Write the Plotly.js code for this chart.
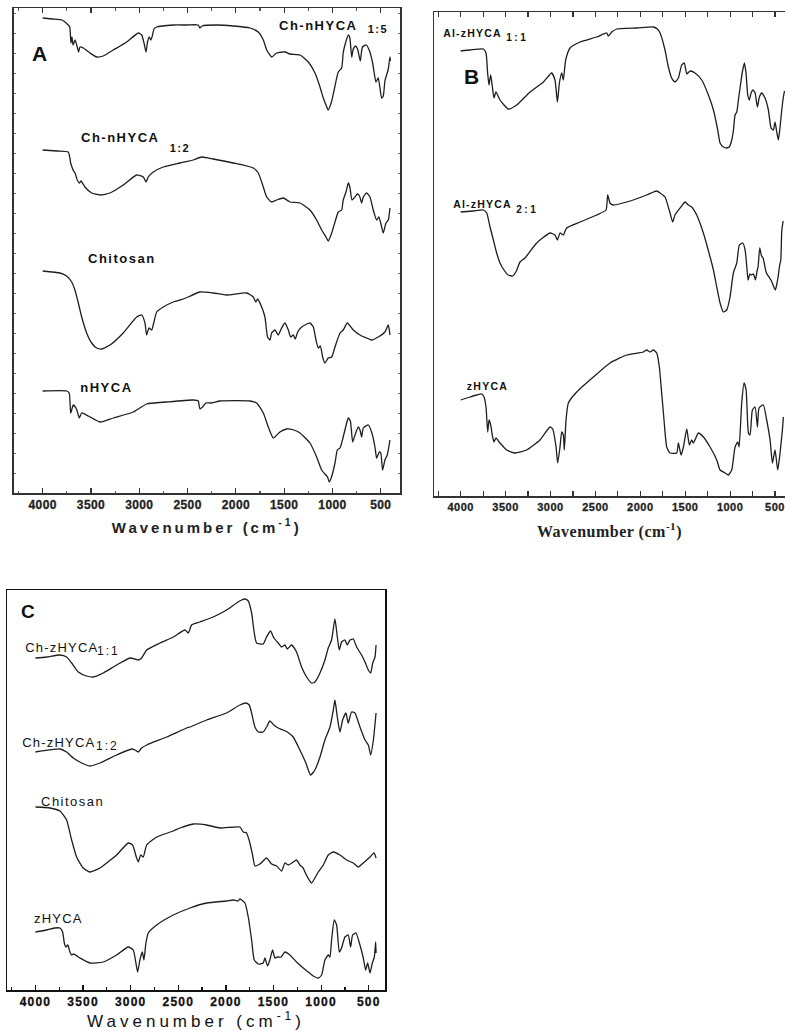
<!DOCTYPE html>
<html>
<head>
<meta charset="utf-8">
<script src="https://cdn.plot.ly/plotly-3.0.1.min.js"></script>
<style>
html,body{margin:0;padding:0;background:#fff}
#chart{width:785px;height:1031px}
#chart .xtick text{font-weight:700 !important;letter-spacing:0.4px;stroke:#222;stroke-width:0.3px}
#chart .x2tick text{font-weight:700 !important;letter-spacing:0.5px;stroke:#222;stroke-width:0.3px}
#chart .x3tick text{font-weight:700 !important;letter-spacing:1.2px;stroke:#111;stroke-width:0.3px}
#chart text.xtitle{font-weight:700 !important;letter-spacing:3px}
#chart text.x2title{font-weight:700 !important;letter-spacing:0.5px}
#chart text.x3title{letter-spacing:4px}
</style>
</head>
<body>
<div id="chart"></div>
<script>
// FTIR spectra, transmittance in arbitrary (stacked) units per panel.

// ---- Panel A ----
const wnChNHYCA15 = [4000,3900,3800,3735,3720,3707,3697,3685,3665,3642,3628,3614,3580,3510,3441,3373,3269,3130,3010,2975,2951,2930,2915,2897,2880,2865,2848,2820,2648,2509,2390,2372,2350,2199,2027,1854,1768,1716,1681,1629,1578,1492,1440,1336,1250,1181,1129,1095,1067,1044,1008,974,940,905,889,871,836,820,801,785,760,740,712,690,650,620,584,550,526,491,474,457,422,405,400];
const tChNHYCA15 = [475,474,473,468,466,450,456,448,453,446,441,446,445,440,436,437,443,451,460,458,450,441,451,456,453,457,464,466,468,468,468,465,467,468,467,465,461,453,443,436,440,441,439,438,431,420,406,395,388,383,392,407,421,425,440,448,458,455,436,444,447,444,432,446,448,443,430,411,415,395,397,412,424,436,432];

const wnChNHYCA12 = [4000,3850,3735,3710,3697,3680,3665,3642,3620,3603,3562,3493,3407,3303,3166,3027,2958,2930,2907,2855,2752,2579,2441,2354,2234,2027,1820,1768,1716,1681,1629,1578,1509,1440,1336,1233,1164,1112,1067,1044,1008,974,940,905,889,860,836,820,798,767,743,720,698,681,646,612,578,543,520,491,474,446,422,405];
const tChNHYCA12 = [343,342,341,330,326,322,320,313,310,312,306,300,298,300,308,318,316,311,316,321,326,330,333,336,334,330,325,320,306,296,291,293,295,291,290,283,273,263,256,252,260,271,281,283,293,301,310,306,293,296,299,297,290,296,300,296,283,273,276,266,260,270,273,285];

const wnChitosanA = [4000,3821,3752,3700,3666,3631,3596,3545,3493,3441,3390,3303,3166,3027,2975,2941,2924,2900,2872,2848,2820,2752,2648,2545,2493,2372,2234,2096,1889,1820,1793,1775,1733,1699,1672,1647,1630,1595,1561,1526,1492,1457,1433,1405,1385,1360,1319,1285,1233,1198,1171,1147,1125,1102,1078,1044,1008,974,922,888,847,785,698,646,595,526,457,422,405];
const tChitosanA = [222,220,217,211,203,190,176,160,150,145,144,148,160,176,178,170,158,165,163,171,181,186,191,194,196,201,200,198,200,196,191,194,186,176,156,153,160,163,158,165,170,163,156,158,154,161,166,168,170,166,153,145,147,136,130,135,136,146,160,163,170,163,157,155,153,156,161,168,158];

const wnNHYCA = [4000,3752,3725,3710,3683,3650,3621,3597,3528,3407,3269,3062,2924,2717,2441,2390,2372,2345,2310,2250,2165,1854,1785,1716,1664,1613,1544,1475,1400,1336,1233,1164,1112,1078,1051,1034,1010,974,950,922,889,853,836,815,791,767,733,715,698,681,629,595,560,543,515,500,481,457,433,405];
const tNHYCA = [102,102,100,80,88,84,75,80,77,71,75,81,89,91,93,92,84,86,90,90,92,92,90,80,66,55,61,64,63,60,50,36,23,19,16,11,16,30,43,45,56,70,75,72,51,58,66,63,56,65,68,61,46,35,41,40,23,33,38,53];

// ---- Panel B ----
const wnAlZHYCA11 = [4000,3896,3748,3718,3700,3685,3666,3647,3629,3607,3562,3469,3376,3228,3079,2987,2950,2923,2901,2875,2857,2831,2782,2671,2486,2374,2356,2318,2263,2040,1854,1810,1780,1725,1688,1651,1614,1576,1539,1510,1483,1460,1439,1391,1316,1242,1186,1138,1112,1075,1038,1010,982,963,945,926,908,882,860,841,823,804,786,767,748,722,696,674,648,611,574,544,518,500,481,463,444,425,407,395];
const tAlZHYCA11 = [445,446,447,443,423,411,421,409,398,404,396,387,391,404,414,423,416,394,413,423,416,436,448,454,459,463,460,464,467,468,469,467,463,446,429,418,414,418,431,433,422,424,425,423,416,401,386,366,353,349,348,349,356,366,381,384,396,413,426,433,423,401,396,403,406,403,389,399,403,398,386,368,366,374,364,356,369,386,399,405];

const wnAlZHYCA21 = [4000,3859,3748,3710,3673,3636,3599,3562,3525,3470,3421,3380,3339,3284,3154,3005,2950,2923,2894,2857,2820,2671,2486,2382,2363,2337,2300,2151,1929,1854,1817,1780,1725,1669,1639,1614,1557,1502,1465,1428,1372,1298,1223,1186,1149,1112,1075,1038,1001,964,926,897,860,833,815,800,780,763,740,718,700,689,670,650,633,596,560,540,518,496,480,466,450,436,425,410];
const tAlZHYCA21 = [284,285,286,283,269,256,243,233,227,221,220,225,234,238,253,263,261,256,263,261,268,274,281,286,301,293,291,294,301,304,305,303,299,283,274,281,288,294,291,289,281,263,239,226,209,193,184,186,199,223,233,251,253,246,230,216,222,221,222,216,225,229,248,240,238,223,218,215,210,206,212,219,230,236,265,275];

const wnZHYCAB = [4000,3896,3822,3766,3740,3718,3699,3684,3666,3644,3629,3607,3562,3488,3395,3265,3117,3005,2975,2938,2920,2894,2875,2857,2846,2827,2801,2708,2523,2337,2151,1966,1929,1892,1855,1817,1788,1762,1736,1706,1669,1595,1576,1546,1520,1483,1454,1428,1409,1353,1298,1223,1149,1112,1056,1019,982,945,915,900,871,845,822,796,778,752,722,696,678,630,593,555,529,500,470,444,418,407];
const tZHYCAB = [96,99,101,102,99,89,64,76,71,59,54,58,53,46,43,46,56,69,67,49,33,49,64,61,46,76,93,104,119,133,141,144,146,144,146,143,129,103,76,49,43,43,53,41,49,67,51,56,53,63,59,49,36,26,23,21,26,49,54,49,93,113,106,63,61,86,89,69,88,91,76,56,33,46,26,43,66,79];

// ---- Panel C ----
const wnChZHYCA11 = [4000,3883,3743,3673,3620,3550,3463,3393,3288,3148,3008,2955,2920,2885,2832,2692,2552,2430,2395,2360,2273,2133,1993,1888,1835,1800,1765,1730,1702,1678,1608,1573,1531,1496,1450,1415,1380,1355,1310,1258,1205,1152,1100,1065,1012,960,925,890,855,830,809,785,750,725,697,662,627,575,539,504,479,458,434,423];
const tChZHYCA11 = [332,333,335,333,327,318,314,313,317,325,332,331,330,332,340,347,353,360,357,365,368,373,380,387,390,391,389,377,357,347,346,353,359,352,347,343,345,341,345,338,323,313,307,308,317,330,342,350,371,353,340,348,350,345,350,351,343,335,328,320,317,327,333,345];

const wnChZHYCA12 = [4000,3743,3673,3603,3515,3428,3323,3148,2990,2955,2920,2885,2832,2622,2412,2377,2202,1993,1853,1790,1755,1730,1695,1660,1608,1573,1538,1496,1450,1398,1355,1293,1223,1160,1111,1065,1012,960,907,872,855,830,802,774,739,715,680,645,592,539,504,479,451,423];
const tChZHYCA12 = [238,241,238,232,227,224,227,235,241,240,238,242,245,253,262,263,270,277,285,287,285,277,263,258,258,263,269,265,262,260,258,253,240,227,215,220,233,250,263,280,290,273,258,270,277,267,278,277,263,250,245,235,250,277];

const wnChitosanC = [4000,3848,3743,3673,3620,3568,3498,3428,3323,3148,3025,2980,2938,2920,2896,2868,2832,2727,2552,2482,2342,2202,2062,1853,1818,1783,1748,1720,1695,1643,1573,1520,1468,1415,1380,1345,1293,1258,1223,1188,1170,1125,1100,1065,1030,977,925,872,802,732,662,610,557,487,444,423];
const tChitosanC = [183,182,179,170,150,133,122,118,122,135,147,145,132,128,135,133,145,153,159,162,166,165,162,163,158,157,147,135,124,126,132,126,124,119,127,125,128,130,125,122,118,110,107,112,118,125,135,138,135,130,127,123,127,133,137,132];

const wnZHYCAC = [4000,3883,3795,3743,3715,3697,3680,3660,3638,3620,3600,3533,3428,3288,3148,3025,2973,2945,2927,2903,2878,2861,2840,2815,2727,2552,2377,2202,1993,1923,1870,1853,1800,1765,1730,1702,1660,1608,1590,1562,1538,1510,1485,1460,1420,1380,1328,1258,1188,1135,1083,1030,995,960,925,907,890,862,837,809,785,750,715,690,669,634,592,557,532,511,487,462,441,427,423];
const tZHYCAC = [58,60,62,62,58,47,43,45,38,35,36,32,27,28,35,43,40,27,18,30,38,30,47,57,65,75,82,87,89,90,89,91,87,73,50,30,26,27,32,24,30,40,32,33,33,38,35,28,22,18,14,12,15,30,35,33,50,70,65,38,42,53,55,43,55,57,45,32,20,27,17,27,33,48,37];

// ---- Labels ----
const tickValues = [4000,3500,3000,2500,2000,1500,1000,500];
const axisTitle = 'Wavenumber (cm<sup>-1</sup>)';

const W = 785, H = 1031;
const px = (a, b) => [a / W, b / W];
const py = (top, bottom) => [1 - bottom / H, 1 - top / H];

const ink = '#1e1e1e';
function spectrum(x, y, xa, ya) {
  return {x: x, y: y, xaxis: xa, yaxis: ya, type: 'scatter', mode: 'lines',
          line: {color: ink, width: 1.3, shape: 'spline', smoothing: 0.5},
          hoverinfo: 'skip', showlegend: false};
}

const traces = [
  spectrum(wnChNHYCA15, tChNHYCA15, 'x', 'y'),
  spectrum(wnChNHYCA12, tChNHYCA12, 'x', 'y'),
  spectrum(wnChitosanA, tChitosanA, 'x', 'y'),
  spectrum(wnNHYCA, tNHYCA, 'x', 'y'),
  spectrum(wnAlZHYCA11, tAlZHYCA11, 'x2', 'y2'),
  spectrum(wnAlZHYCA21, tAlZHYCA21, 'x2', 'y2'),
  spectrum(wnZHYCAB, tZHYCAB, 'x2', 'y2'),
  spectrum(wnChZHYCA11, tChZHYCA11, 'x3', 'y3'),
  spectrum(wnChZHYCA12, tChZHYCA12, 'x3', 'y3'),
  spectrum(wnChitosanC, tChitosanC, 'x3', 'y3'),
  spectrum(wnZHYCAC, tZHYCAC, 'x3', 'y3')
];

const sans = 'Liberation Sans, Arial, sans-serif';
const serif = 'Liberation Serif, Times New Roman, serif';

function xAxis(domain, range, anchor, opts) {
  return Object.assign({
    domain: domain, range: range, anchor: anchor,
    tickmode: 'array', tickvals: tickValues, ticktext: tickValues.map(String),
    ticks: 'inside', ticklen: 5, tickwidth: 1.2, tickcolor: '#333',
    showline: true, linecolor: '#333', linewidth: 1.5,
    showgrid: false, zeroline: false, fixedrange: true
  }, opts);
}
function yAxis(domain, range, anchor, opts) {
  return Object.assign({
    domain: domain, range: range, anchor: anchor,
    showticklabels: false, showline: true, linecolor: '#333', linewidth: 1.5,
    showgrid: false, zeroline: false, fixedrange: true
  }, opts);
}

const layout = {
  width: W, height: H, margin: {l: 0, r: 0, t: 0, b: 0},
  paper_bgcolor: '#fff', plot_bgcolor: '#fff', showlegend: false,
  xaxis: xAxis(px(13.5, 400), [4302, 301], 'y', {
    mirror: 'ticks',
    minor: {ticks: 'inside', ticklen: 2.5, dtick: 250, tick0: 0, tickcolor: '#555'},
    tickfont: {family: sans, size: 12, color: '#222', weight: 'bold'},
    title: {text: axisTitle, standoff: 11, font: {family: sans, size: 15, color: '#222', weight: 'bold'}}
  }),
  yaxis: yAxis(py(8, 493), [0, 485], 'x', {
    mirror: 'ticks', ticks: 'inside', ticklen: 2.5, tickwidth: 1, tickcolor: '#666',
    tickmode: 'linear', tick0: 0, dtick: 20
  }),
  xaxis2: xAxis(px(434, 785), [4297, 389], 'y2', {
    mirror: 'ticks',
    minor: {ticks: 'inside', ticklen: 5, dtick: 250, tick0: 0, tickcolor: '#333'},
    tickfont: {family: sans, size: 11, color: '#222', weight: 'bold'},
    title: {text: axisTitle, standoff: 14, font: {family: serif, size: 16, color: '#222', weight: 'bold'}}
  }),
  yaxis2: yAxis(py(12, 496), [0, 484], 'x2', {mirror: false}),
  xaxis3: xAxis(px(7, 385), [4299, 329], 'y3', {
    mirror: true, linecolor: '#111', tickcolor: '#111',
    minor: {ticks: 'inside', ticklen: 3, dtick: 250, tick0: 0, tickcolor: '#111'},
    tickfont: {family: sans, size: 12, color: '#111', weight: 'bold'},
    title: {text: axisTitle, standoff: 6, font: {family: sans, size: 17, color: '#111'}}
  }),
  yaxis3: yAxis(py(590, 990), [0, 400], 'x3', {mirror: true, linecolor: '#111'}),
  annotations: []
};

// [text, x, y, axisSuffix, size, weight, letterSpacing, anchor]
const labels = [
  ['A', 4028, 440, '', 21, 'bold', 0, 'center'],
  ['Ch-nHYCA', 1512, 468, '', 13, 'bold', 1.5, 'left'],
  ['1:5', 632, 464, '', 11, 'bold', 1.5, 'left'],
  ['Ch-nHYCA', 3562, 356, '', 13, 'bold', 1.5, 'left'],
  ['1:2', 2680, 345, '', 11, 'bold', 1.5, 'left'],
  ['Chitosan', 3489, 235, '', 13, 'bold', 1.5, 'left'],
  ['nHYCA', 3593, 106, '', 13, 'bold', 1.5, 'left'],
  ['B', 3885, 420, '2', 21, 'bold', 0, 'center'],
  ['Al-zHYCA', 4164, 463, '2', 10.5, 'bold', 1.2, 'left'],
  ['1:1', 3473, 458, '2', 10, 'bold', 2.5, 'left'],
  ['Al-zHYCA', 4052, 292, '2', 10.5, 'bold', 1.2, 'left'],
  ['2:1', 3362, 287, '2', 10, 'bold', 2.5, 'left'],
  ['zHYCA', 3919, 110, '2', 10.5, 'bold', 1.3, 'left'],
  ['C', 4079, 379, '3', 19, 'bold', 0, 'center'],
  ['Ch-zHYCA', 4079, 343, '3', 13, 'normal', 1.2, 'left'],
  ['1:1', 3343, 339, '3', 12, 'normal', 2, 'left'],
  ['Ch-zHYCA', 4110, 248, '3', 13, 'normal', 1.2, 'left'],
  ['1:2', 3354, 244, '3', 12, 'normal', 2, 'left'],
  ['Chitosan', 3900, 189, '3', 13, 'normal', 1.5, 'left'],
  ['zHYCA', 4005, 72, '3', 13, 'normal', 1.2, 'left']
];
labels.forEach(l => {
  layout.annotations.push({
    text: l[0], x: l[1], y: l[2], xref: 'x' + l[3], yref: 'y' + l[3],
    showarrow: false, xanchor: l[7], yanchor: 'middle',
    font: {family: sans, size: l[4], color: '#111', weight: l[5]}
  });
});

Plotly.newPlot('chart', traces, layout, {staticPlot: true, displayModeBar: false}).then(gd => {
  labels.forEach((l, i) => {
    const g = gd.querySelector('.annotation[data-index="' + i + '"] text');
    if (g) g.style.letterSpacing = l[6] + 'px';
  });
});
</script>
</body>
</html>
